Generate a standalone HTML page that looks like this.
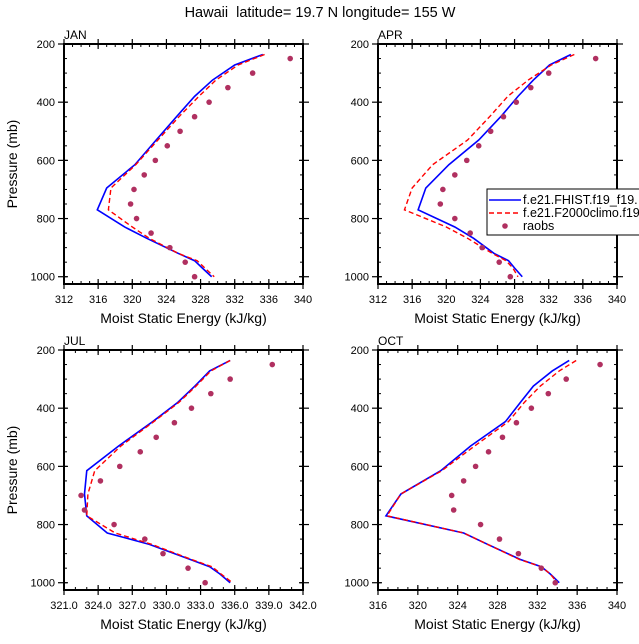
<!DOCTYPE html>
<html><head><meta charset="utf-8"><style>
body{margin:0;background:#fff;overflow:hidden}
svg text{font-family:"Liberation Sans",Arial,sans-serif}
</style></head><body>
<svg id="chart" width="639" height="639" viewBox="0 0 639 639" xmlns="http://www.w3.org/2000/svg">
<text x="320" y="17" font-size="14.5" text-anchor="middle">Hawaii&#160; latitude= 19.7 N longitude= 155 W</text>
</svg>
<script>
const levels=[236,272,324,380,446,530,615,695,770,829,868,920,945,970,1000];
const obsLevels=[250,300,350,400,450,500,550,600,650,700,750,800,850,900,950,1000];
const janBlue=[335.3,332.0,329.4,327.3,325.3,322.8,320.3,317.0,315.9,319.1,321.7,325.4,327.3,328.2,329.3];
const janRed=[335.5,332.4,329.8,327.8,325.6,323.0,320.4,317.5,317.2,320.0,322.0,325.4,327.6,328.5,329.6];
const janObs=[338.5,334.1,331.2,329.0,327.3,325.6,324.1,322.7,321.4,320.2,319.8,320.5,322.2,324.4,326.2,327.3];
const aprBlue=[334.6,332.1,330.2,328.4,326.5,323.8,320.3,317.6,316.7,321.0,323.2,325.6,327.3,328.0,328.9];
const aprRed=[335.0,332.3,329.6,327.2,325.2,322.5,318.4,316.0,315.1,320.0,322.5,325.4,327.0,327.8,328.4];
const aprObs=[337.5,332.0,329.9,328.2,326.7,325.2,323.8,322.4,321.0,319.6,319.3,321.0,322.8,324.2,326.2,327.5];
const julBlue=[335.6,333.8,332.5,331.0,328.8,325.8,323.0,322.8,323.0,324.8,328.5,332.1,333.8,334.7,335.6];
const julRed=[335.6,333.9,332.6,331.1,328.9,326.0,323.7,323.1,323.0,325.5,328.7,332.2,334.0,334.8,335.8];
const julObs=[339.3,335.6,333.9,332.2,330.7,329.1,327.7,325.9,324.2,322.5,322.8,325.4,328.1,329.7,331.9,333.4];
const octBlue=[335.2,333.5,331.6,330.3,328.8,325.3,322.3,318.3,316.8,324.6,327.0,330.3,332.4,333.3,334.2];
const octRed=[335.9,334.2,332.3,330.7,329.1,325.7,322.4,318.3,316.9,324.6,327.0,330.2,332.4,333.3,334.0];
const octObs=[338.3,334.9,333.1,331.4,329.9,328.5,327.1,325.8,324.6,323.4,323.6,326.3,328.2,330.1,332.4,333.8];
const xTicksA=[312,316,320,324,328,332,336,340];
const xTicksJul=[321,324,327,330,333,336,339,342];
const xTicksOct=[316,320,324,328,332,336,340];
const yTicks=[200,400,600,800,1000];
const legendLabels=["f.e21.FHIST.f19_f19.","f.e21.F2000climo.f19","raobs"];

const NS="http://www.w3.org/2000/svg";
const svg=document.getElementById('chart');
function mk(tag,attrs,parent){const e=document.createElementNS(NS,tag);for(const k in attrs)e.setAttribute(k,attrs[k]);(parent||svg).appendChild(e);return e;}

function panel(name,x0,y0,xmin,xmax,xticks,dec,minorStep,blue,red,obs,showY){
  const W=239,H=240,pmin=200,pmax=1025;
  const g=mk('g',{});
  
  
  const sx=v=>x0+(v-xmin)/(xmax-xmin)*W;
  const sy=p=>y0+(p-pmin)/(pmax-pmin)*H;
  const n=Math.round((xmax-xmin)/minorStep);
  for(let k=0;k<=n;k++){
    const X=sx(xmin+k*minorStep);
    mk('line',{x1:X,x2:X,y1:y0+H,y2:y0+H-3,stroke:'#000','stroke-width':1},g);
    mk('line',{x1:X,x2:X,y1:y0,y2:y0+3,stroke:'#000','stroke-width':1},g);
  }
  xticks.forEach(v=>{
    const X=sx(v);
    mk('line',{x1:X,x2:X,y1:y0+H+5,y2:y0+H-5,stroke:'#000','stroke-width':1.2},g);
    mk('line',{x1:X,x2:X,y1:y0-5,y2:y0+5,stroke:'#000','stroke-width':1.2},g);
    const t=mk('text',{x:X,y:y0+H+19,'font-size':11,'text-anchor':'middle'},g);
    
    
    t.textContent=v.toFixed(dec);
  });
  for(let p=250;p<=1000;p+=50){
    const Y=sy(p);
    mk('line',{x1:x0,x2:x0+3,y1:Y,y2:Y,stroke:'#000','stroke-width':1},g);
    mk('line',{x1:x0+W,x2:x0+W-3,y1:Y,y2:Y,stroke:'#000','stroke-width':1},g);
  }
  yTicks.forEach(p=>{
    const Y=sy(p);
    mk('line',{x1:x0-6,x2:x0+4,y1:Y,y2:Y,stroke:'#000','stroke-width':1.2},g);
    mk('line',{x1:x0+W+6,x2:x0+W-4,y1:Y,y2:Y,stroke:'#000','stroke-width':1.2},g);
    const t=mk('text',{x:x0-9,y:Y+4,'font-size':11,'text-anchor':'end'},g);
    
    
    t.textContent=p;
  });
  const box=mk('rect',{x:x0,y:y0,width:W,height:H,fill:'none',stroke:'#000','stroke-width':2},g);
  
  
  const lbl=mk('text',{x:x0,y:y0-5,'font-size':12},g);
  
  
  lbl.textContent=name.toUpperCase();
  const xt=mk('text',{x:x0+W/2,y:y0+H+39,'font-size':14,'text-anchor':'middle'},g);
  
  
  xt.textContent='Moist Static Energy (kJ/kg)';
  if(showY){
    const yt=mk('text',{transform:`translate(17,${y0+H/2}) rotate(-90)`,'font-size':14,'text-anchor':'middle'},g);
    
    
    yt.textContent='Pressure (mb)';
  }
  const pb=mk('polyline',{points:blue.map((v,i)=>sx(v)+','+sy(levels[i])).join(' '),fill:'none',stroke:'#0000ff','stroke-width':1.6},g);
  
  
  const pr=mk('polyline',{points:red.map((v,i)=>sx(v)+','+sy(levels[i])).join(' '),fill:'none',stroke:'#ff0000','stroke-width':1.4,'stroke-dasharray':'5,3'},g);
  
  
  obs.forEach((v,i)=>{
    const c=mk('circle',{cx:sx(v),cy:sy(obsLevels[i]),r:2.8,fill:'#b03060'},g);
    
    
  });
}
panel('jan',64,44,312,340,xTicksA,0,1,janBlue,janRed,janObs,true);
panel('apr',378,44,312,340,xTicksA,0,1,aprBlue,aprRed,aprObs,false);
panel('jul',64,350,321,342,xTicksJul,1,1,julBlue,julRed,julObs,true);
panel('oct',378,350,316,340,xTicksOct,0,1,octBlue,octRed,octObs,false);

const lg=mk('g',{});


mk('rect',{x:487,y:189,width:170,height:46,fill:'#fff',stroke:'#000','stroke-width':1},lg);
const ly=[200,213,226];
const l1=mk('line',{x1:489,x2:521,y1:ly[0],y2:ly[0],stroke:'#0000ff','stroke-width':1.6},lg);


const l2=mk('line',{x1:489,x2:521,y1:ly[1],y2:ly[1],stroke:'#ff0000','stroke-width':1.4,'stroke-dasharray':'5,3'},lg);


const l3=mk('circle',{cx:505,cy:ly[2],r:2.8,fill:'#b03060'},lg);


legendLabels.forEach((s,i)=>{
  const t=mk('text',{x:523,y:ly[i]+4,'font-size':12.5},lg);
  
  
  t.textContent=s;
});
</script>
</body></html>
